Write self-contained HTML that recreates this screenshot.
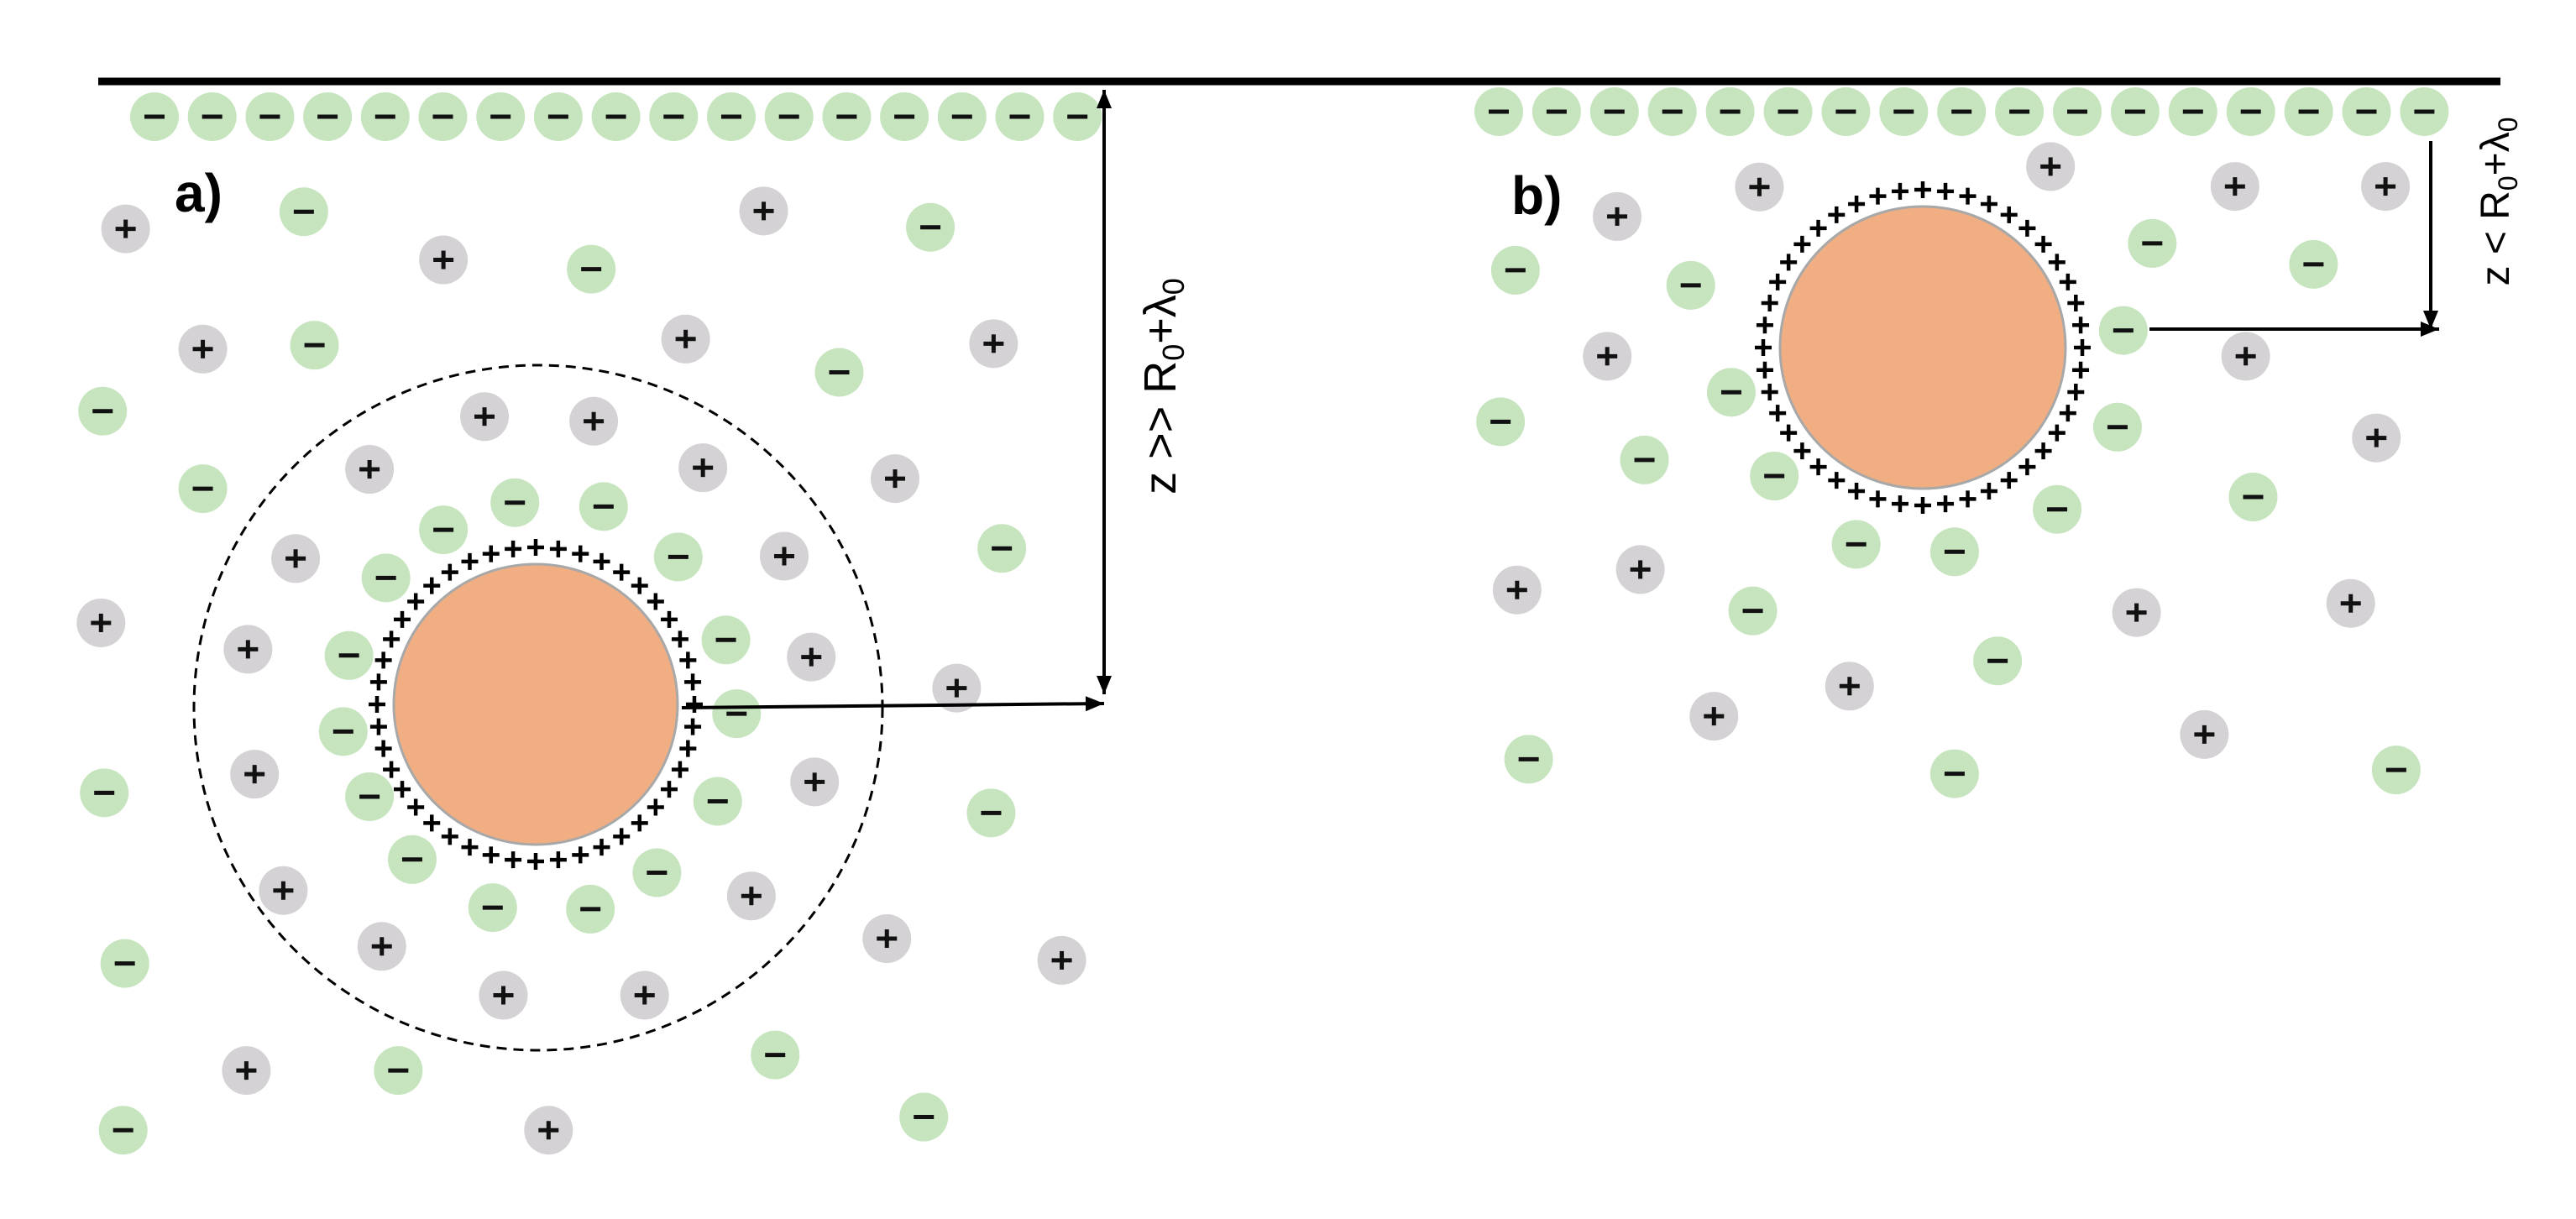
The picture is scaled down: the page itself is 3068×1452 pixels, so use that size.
<!DOCTYPE html>
<html><head><meta charset="utf-8"><style>html,body{margin:0;padding:0;background:#fff}svg{display:block}</style></head>
<body>
<svg id="s" xmlns="http://www.w3.org/2000/svg" width="3068" height="1452" viewBox="0 0 3068 1452">
<line x1="117" y1="97" x2="2978" y2="97" stroke="#000" stroke-width="9"/>
<g id="g"></g>
<text x="208" y="252" font-family="Liberation Sans, sans-serif" font-weight="bold" font-size="64">a)</text>
<text x="1800" y="255" font-family="Liberation Sans, sans-serif" font-weight="bold" font-size="64">b)</text>
<text transform="translate(1400,460) rotate(-90)" text-anchor="middle" font-family="Liberation Sans, sans-serif" font-size="54">z &gt;&gt; R<tspan font-size="36" dy="10">0</tspan><tspan dy="-10">+λ</tspan><tspan font-size="36" dy="10">0</tspan></text>
<text transform="translate(2988,240) rotate(-90)" text-anchor="middle" font-family="Liberation Sans, sans-serif" font-size="48">z &lt; R<tspan font-size="32" dy="10">0</tspan><tspan dy="-10">+λ</tspan><tspan font-size="32" dy="10">0</tspan></text>
</svg>
<script>
var g=document.getElementById('g'),h='';
function ion(x,y,p){h+='<circle cx="'+x+'" cy="'+y+'" r="29" fill="'+(p?'#d4d2d4':'#c6e5be')+'"/>';
h+='<line x1="'+(x-12)+'" y1="'+y+'" x2="'+(x+12)+'" y2="'+y+'" stroke="#111" stroke-width="5"/>';
if(p)h+='<line x1="'+x+'" y1="'+(y-11)+'" x2="'+x+'" y2="'+(y+11)+'" stroke="#111" stroke-width="5"/>';}
function plus(x,y){h+='<path d="M'+(x-10)+' '+y+'h20M'+x+' '+(y-10)+'v20" stroke="#000" stroke-width="4.5"/>';}
function arr(x1,y1,x2,y2,both){h+='<line x1="'+x1+'" y1="'+y1+'" x2="'+x2+'" y2="'+y2+'" stroke="#000" stroke-width="4"/>';
 function head(xa,ya,xb,yb){var a=Math.atan2(yb-ya,xb-xa),L=22,w=9;var p1=[xb-L*Math.cos(a)+w*Math.sin(a),yb-L*Math.sin(a)-w*Math.cos(a)],p2=[xb-L*Math.cos(a)-w*Math.sin(a),yb-L*Math.sin(a)+w*Math.cos(a)];h+='<polygon points="'+xb+','+yb+' '+p1+' '+p2+'" fill="#000"/>';}
 head(x1,y1,x2,y2);if(both)head(x2,y2,x1,y1);}
h+='<ellipse cx="641" cy="843" rx="410" ry="408" fill="none" stroke="#000" stroke-width="3" stroke-dasharray="12,8"/>';
for(var i=0;i<17;i++){ion(184+i*68.7,139,0);ion(1785+i*68.9,133,0);}
var fx=0.978,fy=0.924;
var ap=[[153,295],[540,335],[930,272],[247,450],[835,437],[1210,443],[590,537],[723,543],[450,605],[856,603],[1090,617],[360,720],[955,717],[123,803],[302,837],[988,847],[1165,887],[310,998],[992,1008],[345,1148],[915,1155],[465,1220],[1080,1210],[1293,1238],[613,1283],[785,1283],[300,1380],[668,1457]];
var am=[[370,273],[1133,293],[720,347],[383,445],[1022,480],[125,530],[247,630],[627,648],[735,653],[540,683],[826,718],[1220,707],[470,745],[425,845],[884,825],[418,943],[897,920],[127,1022],[450,1027],[874,1033],[1207,1048],[502,1108],[800,1125],[600,1170],[719,1172],[152,1242],[485,1380],[944,1360],[1125,1440],[150,1457]];
ap.forEach(function(p){ion(p[0]*fx,p[1]*fy,1)});am.forEach(function(p){ion(p[0]*fx,p[1]*fy,0)});
var bp=[[570,348],[398,403],[922,310],[1145,347],[1327,347],[386,663],[1158,663],[1316,815],[277,1098],[426,1060],[1026,1140],[1285,1123],[679,1277],[515,1333],[1108,1367]];
var bm=[[275,503],[487,531],[1045,453],[1240,492],[1010,615],[536,730],[257,785],[1003,795],[431,856],[588,886],[930,948],[1167,925],[687,1013],[806,1027],[562,1137],[858,1230],[291,1413],[806,1440],[1340,1433]];
function bx(x){return x*0.985+1534}function by(y){return y*0.64}
bp.forEach(function(p){ion(bx(p[0]),by(p[1]),1)});bm.forEach(function(p){ion(bx(p[0]),by(p[1]),0)});
function part(cx,cy,rx,ry,n){for(var k=0;k<n;k++){var a=2*Math.PI*k/n;plus(cx+(rx+20)*Math.cos(a),cy+(ry+20)*Math.sin(a));}
h+='<ellipse cx="'+cx+'" cy="'+cy+'" rx="'+rx+'" ry="'+ry+'" fill="#f1ae82" stroke="#a8a8a8" stroke-width="3"/>';}
part(638,839,169,167,44);part(2290,414,170,168,44);
arr(812,843,1315,838,0);arr(1315,107,1315,827,1);
arr(2895,168,2895,392,0);arr(2560,392,2905,392,0);
g.innerHTML=h;
</script>
</body></html>
